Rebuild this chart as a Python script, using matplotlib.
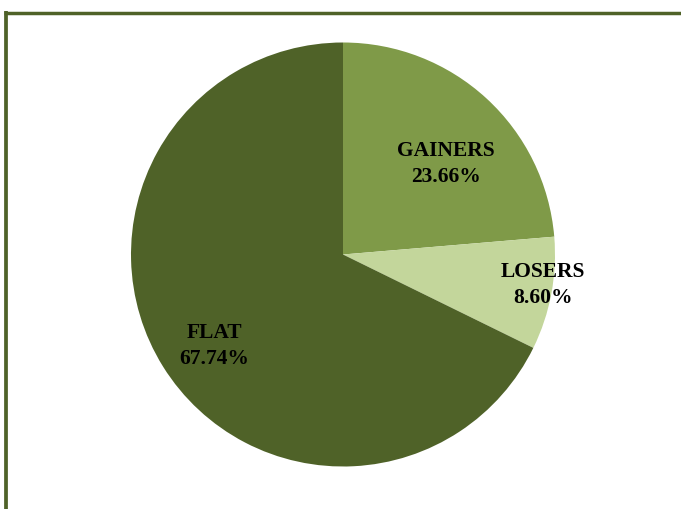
import numpy as np
import matplotlib.pyplot as plt
from matplotlib.lines import Line2D

# market breadth split
categories = ["GAINERS", "LOSERS", "FLAT"]
shares = [23.66, 8.60, 67.74]
colors = ["#7F9A48", "#C3D69B", "#4F6228"]

W, H = 681, 509
fig = plt.figure(figsize=(W / 100, H / 100), dpi=100)
fig.patch.set_facecolor("white")

# pie centred at (343, 254) px from top-left, radius ~212 px
cx, cy, r = 343, 254.5, 212
ax = fig.add_axes([(cx - r) / W, (H - cy - r) / H, 2 * r / W, 2 * r / H])
wedges, _ = ax.pie(shares, colors=colors, startangle=90, counterclock=False,
                   radius=1, wedgeprops=dict(linewidth=0))
ax.set_xlim(-1, 1)
ax.set_ylim(-1, 1)
ax.set_aspect("equal")
ax.axis("off")

# label spots (in pie radius units) picked to sit where the reference has them
label_pos = [(0.486, 0.425), (0.942, -0.142), (-0.606, -0.433)]
for name, val, (x, y) in zip(categories, shares, label_pos):
    ax.text(x, y, f"{name}\n{val:.2f}%", ha="center", va="center",
            fontsize=15.5, fontweight="bold", family="Liberation Serif",
            linespacing=1.4, color="black")

# chart border (top and left edges only visible)
border = "#4F6228"
fig.add_artist(Line2D([4 / W, 1], [1 - 12.5 / H, 1 - 12.5 / H],
                      transform=fig.transFigure, color=border, linewidth=2.5,
                      solid_capstyle="butt"))
fig.add_artist(Line2D([6.3 / W, 6.3 / W], [0, 1 - 11 / H],
                      transform=fig.transFigure, color=border, linewidth=2.7,
                      solid_capstyle="butt"))

fig.savefig("out.png", dpi=100)
